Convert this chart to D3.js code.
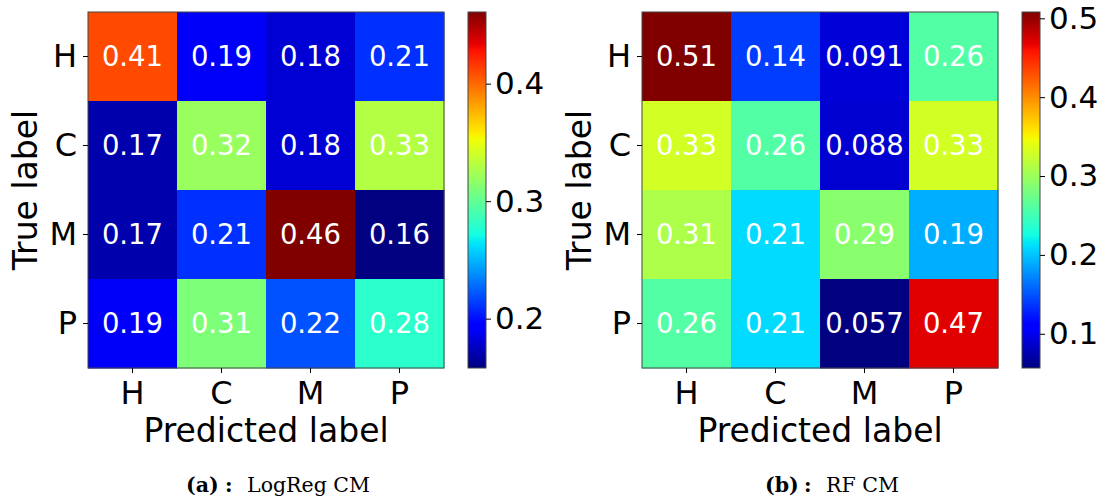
<!DOCTYPE html>
<html>
<head>
<meta charset="utf-8">
<script src="https://cdn.jsdelivr.net/npm/d3@7"></script>
<style>
  body { margin: 0; background: #fff; }
  svg text { font-family: "DejaVu Sans", sans-serif; }
</style>
</head>
<body>
<div id="chart"></div>
<script>
const width = 1103;
const height = 502;

// data
const classLabels = ["H", "C", "M", "P"];
const logregCM = [
    [0.41, 0.19, 0.18, 0.21],
    [0.17, 0.32, 0.18, 0.33],
    [0.17, 0.21, 0.461, 0.158],
    [0.19, 0.31, 0.22, 0.28]
];
const rfCM = [
    [0.508, 0.14, 0.091, 0.26],
    [0.33, 0.26, 0.088, 0.33],
    [0.31, 0.21, 0.29, 0.19],
    [0.26, 0.21, 0.0566, 0.47]
];
const logregTicks = [0.2, 0.3, 0.4];
const rfTicks = [0.1, 0.2, 0.3, 0.4, 0.5];
const captions = [
    { tag: "(a)", text: "LogReg CM" },
    { tag: "(b)", text: "RF CM" }
];

// matplotlib "jet" segment data
const jetStops = [0, 0.11, 0.125, 0.34, 0.35, 0.375, 0.64, 0.65, 0.66, 0.89, 0.91, 1];
const jetR = d3.scaleLinear().domain([0, 0.35, 0.66, 0.89, 1]).range([0, 0, 1, 1, 0.5]).clamp(true);
const jetG = d3.scaleLinear().domain([0, 0.125, 0.375, 0.64, 0.91, 1]).range([0, 0, 1, 1, 0, 0]).clamp(true);
const jetB = d3.scaleLinear().domain([0, 0.11, 0.34, 0.65, 1]).range([0.5, 1, 1, 0, 0]).clamp(true);
const jet = t => d3.rgb(jetR(t) * 255, jetG(t) * 255, jetB(t) * 255).formatHex();

const svg = d3.select("#chart")
    .append("svg")
    .attr("width", width)
    .attr("height", height);

const defs = svg.append("defs");
const fmt = d3.format(".2g");

const size = 356;
const topY = 12;

function drawPanel(idx, matrix, ticks, x0) {
    const values = matrix.flat();
    const vmin = d3.min(values), vmax = d3.max(values);
    const norm = d3.scaleLinear().domain([vmin, vmax]).range([0, 1]);

    const x = d3.scaleBand().domain(classLabels).range([x0, x0 + size]);
    const y = d3.scaleBand().domain(classLabels).range([topY, topY + size]);

    const g = svg.append("g");

    const cells = matrix.flatMap((row, i) => row.map((v, j) => ({ t: classLabels[i], p: classLabels[j], v })));

    g.selectAll(".cell")
        .data(cells)
        .enter()
        .append("rect")
        .attr("x", d => x(d.p))
        .attr("y", d => y(d.t))
        .attr("width", x.bandwidth() + 0.5)
        .attr("height", y.bandwidth() + 0.5)
        .attr("fill", d => jet(norm(d.v)));

    g.selectAll(".ann")
        .data(cells)
        .enter()
        .append("text")
        .attr("x", d => x(d.p) + x.bandwidth() / 2)
        .attr("y", d => y(d.t) + y.bandwidth() / 2)
        .attr("dy", "0.36em")
        .attr("text-anchor", "middle")
        .attr("fill", "#fff")
        .style("font-size", "27.5px")
        .text(d => fmt(d.v));

    g.append("rect")
        .attr("x", x0)
        .attr("y", topY)
        .attr("width", size)
        .attr("height", size)
        .attr("fill", "none")
        .attr("stroke", "#444")
        .attr("stroke-width", 1);

    const xAxis = g.append("g")
        .attr("transform", `translate(0,${topY + size})`)
        .call(d3.axisBottom(x).tickSize(5).tickPadding(8));
    const yAxis = g.append("g")
        .attr("transform", `translate(${x0},0)`)
        .call(d3.axisLeft(y).tickSize(5).tickPadding(6));
    [xAxis, yAxis].forEach(a => {
        a.select(".domain").remove();
        a.selectAll("text").style("font-size", "32px").attr("fill", "#000");
        a.selectAll("line").attr("stroke", "#000");
    });

    g.append("text")
        .attr("x", x0 + size / 2)
        .attr("y", 442)
        .attr("text-anchor", "middle")
        .style("font-size", "33px")
        .text("Predicted label");

    g.append("text")
        .attr("transform", `translate(${x0 - 51},${topY + size / 2}) rotate(-90)`)
        .attr("text-anchor", "middle")
        .style("font-size", "33px")
        .text("True label");

    // colorbar
    const cbX = x0 + size + 24;
    const cbW = 18;
    const gradId = "jet" + idx;
    defs.append("linearGradient")
        .attr("id", gradId)
        .attr("x1", 0).attr("y1", 1).attr("x2", 0).attr("y2", 0)
        .selectAll("stop")
        .data(jetStops)
        .enter()
        .append("stop")
        .attr("offset", d => d)
        .attr("stop-color", d => jet(d));

    g.append("rect")
        .attr("x", cbX)
        .attr("y", topY)
        .attr("width", cbW)
        .attr("height", size)
        .attr("fill", `url(#${gradId})`)
        .attr("stroke", "#444")
        .attr("stroke-width", 1);

    const cbScale = d3.scaleLinear().domain([vmin, vmax]).range([topY + size, topY]);
    const cbAxis = g.append("g")
        .attr("transform", `translate(${cbX + cbW},0)`)
        .call(d3.axisRight(cbScale).tickValues(ticks).tickFormat(d3.format(".1f")).tickSize(5).tickPadding(4));
    cbAxis.select(".domain").remove();
    cbAxis.selectAll("text").style("font-size", "31px").attr("fill", "#000");
    cbAxis.selectAll("line").attr("stroke", "#000");

    // caption
    const cap = captions[idx];
    const capG = g.append("g");
    const capText = capG.append("text")
        .attr("y", 492)
        .style("font-family", "'DejaVu Serif', serif")
        .style("font-size", "20.5px");
    capText.append("tspan").attr("x", 0).style("font-weight", "bold").text(cap.tag);
    capText.append("tspan").attr("x", 39).style("font-weight", "bold").text(":");
    capText.append("tspan").attr("x", 61).text(cap.text);
    const bb = capText.node().getBBox();
    capG.attr("transform", `translate(${x0 + 190 - bb.width / 2},0)`);
}

drawPanel(0, logregCM, logregTicks, 88);
drawPanel(1, rfCM, rfTicks, 642);
</script>
</body>
</html>
